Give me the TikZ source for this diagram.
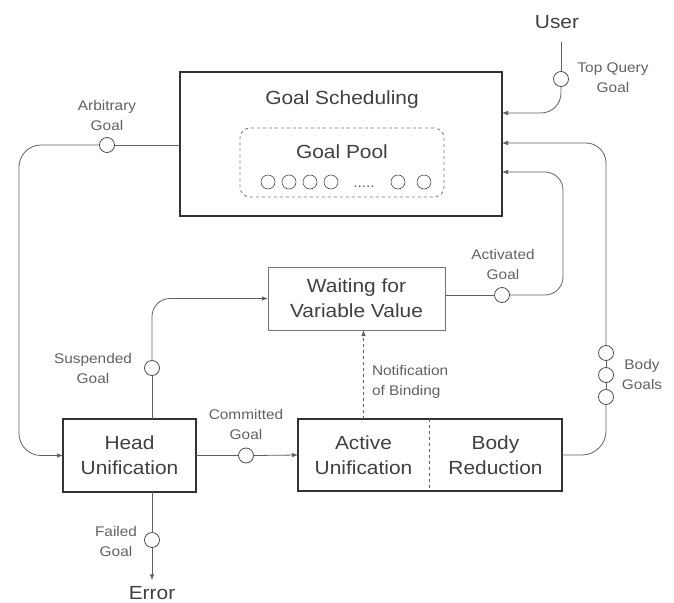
\documentclass[tikz,border=0pt]{standalone}
\usepackage{fontspec}
\setmainfont{Liberation Sans}[FakeStretch=1.1]
\usetikzlibrary{arrows.meta,calc}
\begin{document}
\begin{tikzpicture}[x=1pt,y=-1pt,
  every node/.style={inner sep=0pt, outer sep=0pt},
  main/.style={font=\fontsize{19}{25}\selectfont, text=black!75, align=center},
  lbl/.style={font=\fontsize{14}{20}\selectfont, text=black!62, align=center},
  box/.style={draw=black!80, line width=1.1pt},
  softbox/.style={draw=black!55, line width=0.8pt},
  tok/.style={circle, draw=black!70, line width=0.8pt, fill=white, minimum size=15pt},
  conn/.style={draw=black!62, line width=0.8pt},
  tip/.style={-{Latex[length=6pt,width=4.5pt]}},
]
\useasboundingbox (0,0) rectangle (674,602);

% Goal scheduling with its goal pool
\node[box, minimum width=322pt, minimum height=144pt] (gs) at (341,144) {};
\node[main] (gstitle) at (342,100) {Goal Scheduling};
\node[softbox, dashed, rounded corners=10pt, minimum width=204pt, minimum height=69pt] (pool) at (342,162.5) {};
\node[main] (pooltitle) at (342,152) {Goal Pool};
\foreach \x/\n in {268/p1,289/p2,310/p3,331/p4,398/p5,424/p6}
  \node[tok, minimum size=14pt, line width=0.6pt] (\n) at (\x,182) {};
\node[lbl] (pooldots) at (364,187) {.....};

% entry points on the right side of the scheduler
\path (gs.north east) ++(0,41) coordinate (gsA) ++(0,30) coordinate (gsB) ++(0,29) coordinate (gsC);

% user and top query goal
\node[main] (user) at (557,22) {User};
\coordinate (usr) at (561,42);
\node[tok] (tq) at (561,79) {};
\node[lbl] (tql) at (613,78) {Top Query\\Goal};
\draw[conn] (usr) -- (tq.north);
\draw[conn, tip, rounded corners=20pt] (tq.south) |- (gsA);

% arbitrary goal
\node[tok] (ab) at (107,145) {};
\node[lbl] (abl) at (107,115.5) {Arbitrary\\Goal};

% waiting for variable value
\node[softbox, main, minimum width=177pt, minimum height=63pt] (wait) at (356.5,298.5) {Waiting for\\Variable Value};

% activated goal
\node[tok] (ag) at (502,295) {};
\node[lbl] (agl) at (503,264) {Activated\\Goal};
\coordinate (agbend) at (563,295);

% head unification
\node[box, main, minimum width=133pt, minimum height=73pt] (head) at (129.5,455.5) {Head\\Unification};

% suspended goal
\node[tok] (sg) at (152,368) {};
\node[lbl] (sgl) at (93,368.5) {Suspended\\Goal};

% committed goal
\node[tok] (cg) at (246,455.5) {};
\node[lbl] (cgl) at (246,424.5) {Committed\\Goal};

% active unification / body reduction
\node[main, minimum width=131pt, minimum height=72pt] (act) at (363.5,455) {Active\\Unification};
\node[main, minimum width=133pt, minimum height=72pt] (body) at (495.5,455) {Body\\Reduction};
\draw[box] (act.north west) rectangle (body.south east);
\draw[conn, dashed] (act.north east) -- (act.south east);

% notification of binding
\node[lbl, align=left, anchor=west] (nbl) at (372,382) {Notification\\of Binding};
\draw[conn, dashed, tip] (act.north) -- (wait.south -| act.north);

% body goals
\node[tok] (bg1) at (606,353) {};
\node[tok] (bg2) at (606,375) {};
\node[tok] (bg3) at (606,397) {};
\node[lbl] (bgl) at (642,374) {Body\\Goals};

% failed goal and error
\node[tok] (fg) at (152,540) {};
\node[lbl] (fgl) at (116,541) {Failed\\Goal};
\node[main] (err) at (152,593) {Error};

% connectors
\draw[conn] (gs.west |- ab) -- (ab.east);
\coordinate (abbend) at (19,145);
\draw[conn, tip, rounded corners=22pt] (ab.west) -- (abbend) |- (head.west);

\draw[conn] (head.north -| sg) -- (sg.south);
\draw[conn, tip, rounded corners=18pt] (sg.north) |- (wait.west);

\draw[conn] (wait.east |- ag) -- (ag.west);
\draw[conn, tip, rounded corners=18pt] (ag.east) -- (agbend) |- (gsC);

\draw[conn] (head.east) -- (cg.west);
\draw[conn, tip] (cg.east) -- (act.west);

\draw[conn, rounded corners=24pt] (body.east) -| (bg3.south);
\draw[conn] (bg3.north) -- (bg2.south);
\draw[conn] (bg2.north) -- (bg1.south);
\draw[conn, tip, rounded corners=20pt] (bg1.north) |- (gsB);

\draw[conn] (head.south -| fg) -- (fg.north);
\draw[conn, tip, shorten >=6pt] (fg.south) -- (err.north);
\end{tikzpicture}
\end{document}
